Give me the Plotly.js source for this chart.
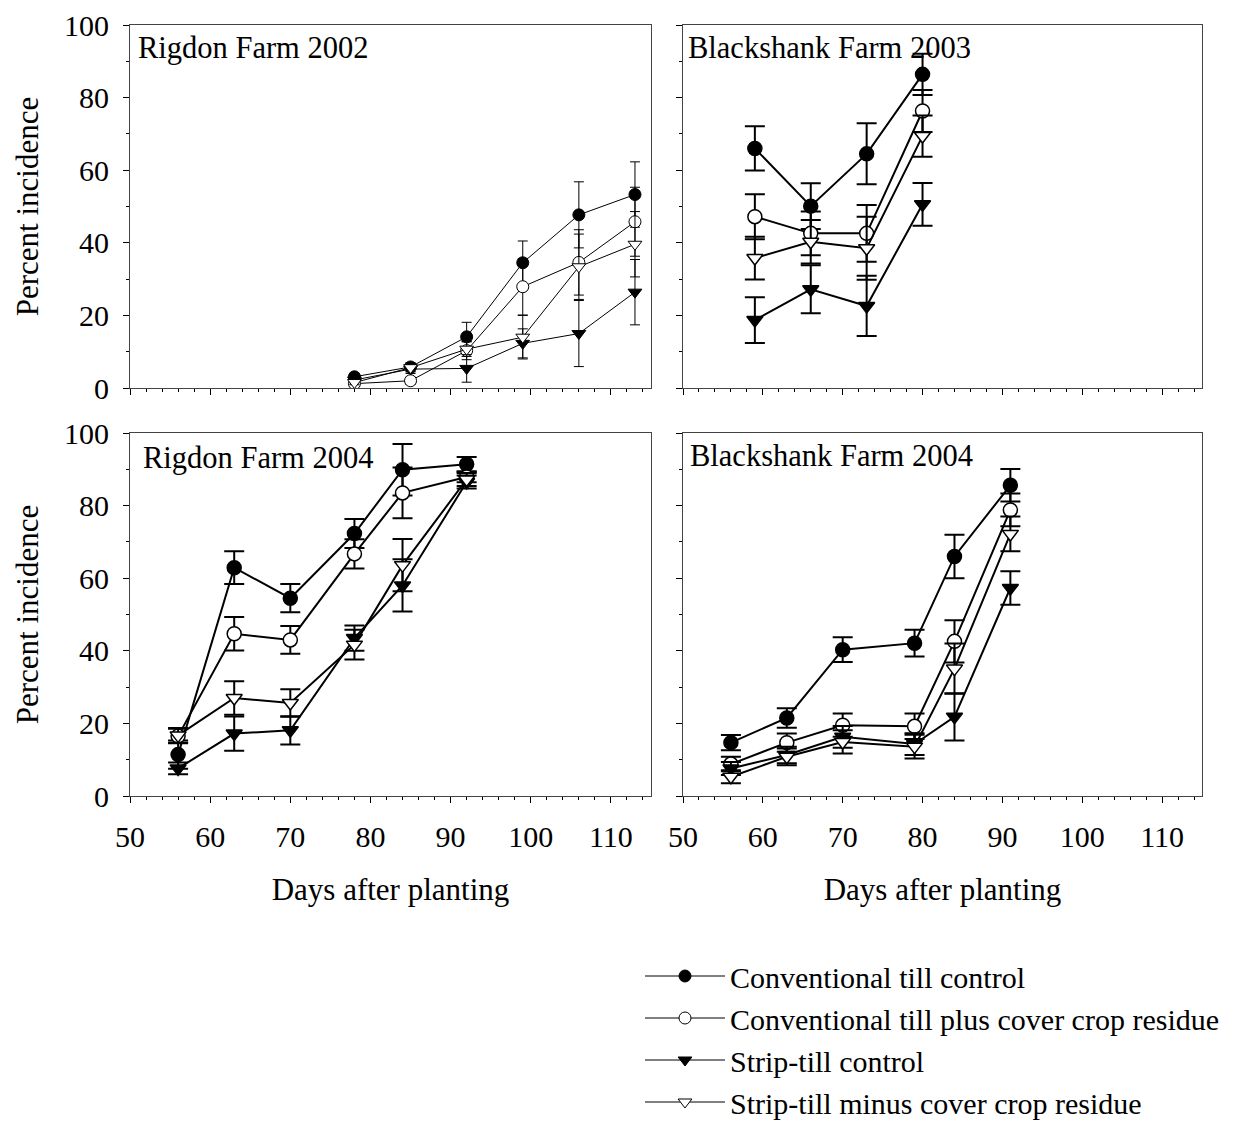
<!DOCTYPE html>
<html>
<head>
<meta charset="utf-8">
<script src="https://cdn.plot.ly/plotly-3.0.1.min.js"></script>
<style>html,body{margin:0;padding:0;background:#fff;}#chart{width:1233px;height:1121px;}</style>
</head>
<body>
<div id="chart"></div>
<script>
// ---------- data ----------
const seriesNames = ["Conventional till control", "Conventional till plus cover crop residue", "Strip-till control", "Strip-till minus cover crop residue"];
const panelTitles = ["Rigdon Farm 2002", "Blackshank Farm 2003", "Rigdon Farm 2004", "Blackshank Farm 2004"];

// Rigdon Farm 2002
const daysA = [78, 85, 92, 99, 106, 113];
const ctcA = [3.1, 5.8, 14.1, 34.5, 47.7, 53.3];
const ctcAerr = [0.8, 1.2, 4.0, 6.0, 9.1, 9.0];
const ctpA = [1.2, 2.0, 10.3, 27.9, 34.6, 45.8];
const ctpAerr = [0.5, 1.0, 2.5, 7.8, 9.0, 9.5];
const stcA = [2.2, 5.2, 5.4, 12.3, 15.0, 26.4];
const stcAerr = [0.8, 1.2, 3.8, 4.0, 9.1, 9.0];
const stmA = [1.5, 5.6, 10.7, 14.0, 33.4, 39.6];
const stmAerr = [0.6, 1.2, 2.0, 6.0, 9.0, 9.0];

// Blackshank Farm 2003
const daysB = [59, 66, 73, 80];
const ctcB = [66.0, 50.1, 64.5, 86.4];
const ctcBerr = [6.1, 6.3, 8.4, 5.7];
const ctpB = [47.2, 42.6, 42.6, 76.3];
const ctpBerr = [6.2, 6.0, 7.8, 5.8];
const stcB = [18.7, 27.2, 22.6, 50.6];
const stcBerr = [6.3, 6.6, 8.3, 5.9];
const stmB = [35.8, 40.3, 38.5, 69.4];
const stmBerr = [5.9, 6.0, 8.7, 5.7];

// Rigdon Farm 2004
const daysC = [56, 63, 70, 78, 84, 92];
const ctcC = [11.4, 62.9, 54.5, 72.3, 89.9, 91.4];
const ctcCerr = [3.9, 4.5, 3.9, 4.0, 7.1, 2.0];
const ctpC = [16.5, 44.7, 43.0, 66.7, 83.5, 87.9];
const ctpCerr = [2.0, 4.6, 3.8, 4.0, 7.0, 1.5];
const stcC = [7.6, 17.2, 18.1, 43.5, 58.0, 86.5];
const stcCerr = [1.6, 4.7, 3.9, 3.5, 7.2, 1.8];
const stmC = [16.7, 27.0, 25.6, 41.7, 63.6, 87.2];
const stmCerr = [2.0, 4.6, 3.8, 4.1, 7.2, 1.8];

// Blackshank Farm 2004
const daysD = [56, 63, 70, 79, 84, 91];
const ctcD = [14.7, 21.5, 40.3, 42.1, 66.0, 85.6];
const ctcDerr = [2.1, 2.7, 3.4, 3.7, 6.0, 4.5];
const ctpD = [8.8, 14.7, 19.5, 19.2, 42.6, 78.8];
const ctpDerr = [2.0, 2.5, 3.2, 3.5, 5.8, 4.5];
const stcD = [7.6, 11.3, 16.3, 14.3, 21.8, 57.3];
const stcDerr = [1.8, 2.3, 3.0, 3.0, 6.5, 4.6];
const stmD = [5.3, 10.8, 14.9, 13.6, 35.1, 72.2];
const stmDerr = [1.8, 2.3, 3.2, 3.3, 6.9, 4.8];

// ---------- styling ----------
const FONT = '"Liberation Serif", "Times New Roman", Times, serif';
const symbols = ["circle", "circle", "triangle-down", "triangle-down"];
const fills = ["black", "white", "black", "white"];

const panels = [
  {days: daysA, ys: [ctcA, ctpA, stcA, stmA], errs: [ctcAerr, ctpAerr, stcAerr, stmAerr], xa: "x", ya: "y", thin: true},
  {days: daysB, ys: [ctcB, ctpB, stcB, stmB], errs: [ctcBerr, ctpBerr, stcBerr, stmBerr], xa: "x2", ya: "y2", thin: false},
  {days: daysC, ys: [ctcC, ctpC, stcC, stmC], errs: [ctcCerr, ctpCerr, stcCerr, stmCerr], xa: "x3", ya: "y3", thin: false},
  {days: daysD, ys: [ctcD, ctpD, stcD, stmD], errs: [ctcDerr, ctpDerr, stcDerr, stmDerr], xa: "x4", ya: "y4", thin: false}
];

const traces = [];
panels.forEach((p, pi) => {
  for (let s = 0; s < 4; s++) {
    traces.push({
      type: "scatter", mode: "lines+markers",
      x: p.days, y: p.ys[s], xaxis: p.xa, yaxis: p.ya,
      name: seriesNames[s], showlegend: pi === 0,
      line: {color: "black", width: p.thin ? 1 : 2},
      marker: {symbol: symbols[s], size: p.thin ? 12 : 14, color: fills[s], line: {color: "black", width: p.thin ? 1 : 1.5}},
      error_y: {type: "data", array: p.errs[s], visible: true, color: "black", thickness: p.thin ? 1 : 2, width: p.thin ? 5 : 10},
      hoverinfo: "x+y+name"
    });
  }
});

const xDomL = [130 / 1233, 651 / 1233];
const xDomR = [683 / 1233, 1202 / 1233];
const yDomT = [1 - 388 / 1121, 1 - 25 / 1121];
const yDomB = [1 - 796 / 1121, 1 - 433 / 1121];

function xax(domain, anchor, labels) {
  return {
    domain: domain, anchor: anchor, range: [50, 115], tick0: 50, dtick: 10,
    ticks: "outside", ticklen: 6, tickwidth: 1, tickcolor: "black",
    minor: {dtick: 2, ticks: "outside", ticklen: 3, tickcolor: "black", showgrid: false},
    showticklabels: labels, ticklabelstandoff: 8,
    tickfont: {family: FONT, size: 30, color: "black"},
    showline: true, mirror: true, linecolor: "#444", linewidth: 1,
    showgrid: false, zeroline: false,
    title: labels ? {text: "Days after planting", font: {family: FONT, size: 31, color: "black"}, standoff: 26} : {text: ""}
  };
}
function yax(domain, anchor, labels) {
  return {
    domain: domain, anchor: anchor, range: [0, 100], tick0: 0, dtick: 20,
    ticks: "outside", ticklen: 6, tickwidth: 1, tickcolor: "black",
    minor: {dtick: 10, ticks: "outside", ticklen: 3, tickcolor: "black", showgrid: false},
    showticklabels: labels, ticklabelstandoff: 8,
    tickfont: {family: FONT, size: 30, color: "black"},
    showline: true, mirror: true, linecolor: "#444", linewidth: 1,
    showgrid: false, zeroline: false,
    title: labels ? {text: "Percent incidence", font: {family: FONT, size: 31, color: "black"}, standoff: 16} : {text: ""}
  };
}

const annPos = [
  {x: 136 / 1233, y: 1 - 48 / 1121},
  {x: 686 / 1233, y: 1 - 48 / 1121},
  {x: 141 / 1233, y: 1 - 458 / 1121},
  {x: 688 / 1233, y: 1 - 456 / 1121}
];
const annotations = panelTitles.map((t, i) => ({
  text: t, xref: "paper", yref: "paper", x: annPos[i].x, y: annPos[i].y,
  xanchor: "left", yanchor: "middle", showarrow: false,
  font: {family: FONT, size: 30.5, color: "black"}
}));

const layout = {
  width: 1233, height: 1121,
  margin: {l: 0, r: 0, t: 0, b: 0, autoexpand: false},
  paper_bgcolor: "white", plot_bgcolor: "white",
  font: {family: FONT, color: "black"},
  xaxis: xax(xDomL, "y", false), yaxis: yax(yDomT, "x", true),
  xaxis2: xax(xDomR, "y2", false), yaxis2: yax(yDomT, "x2", false),
  xaxis3: xax(xDomL, "y3", true), yaxis3: yax(yDomB, "x3", true),
  xaxis4: xax(xDomR, "y4", true), yaxis4: yax(yDomB, "x4", false),
  annotations: annotations,
  showlegend: true,
  legend: {
    x: 640 / 1233, y: 1 - 950 / 1121, xanchor: "left", yanchor: "top",
    font: {family: FONT, size: 30, color: "black"},
    bgcolor: "rgba(0,0,0,0)", borderwidth: 0, itemwidth: 80, tracegroupgap: 0
  }
};

Plotly.newPlot("chart", traces, layout, {displayModeBar: false, responsive: false});
</script>
</body>
</html>
